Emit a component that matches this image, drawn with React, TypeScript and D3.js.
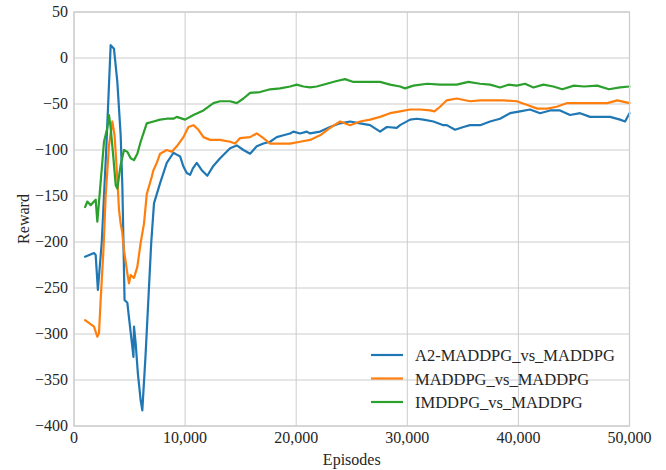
import React from "react";
import * as d3 from "d3";

// Episode checkpoints and smoothed rewards for each matchup
const a2Episodes = [1000, 1800, 1950, 2150, 2500, 2900, 3300, 3600, 3900, 4200, 4350, 4450, 4550, 4800, 4900, 5250, 5350, 5400, 5550, 5750, 6000, 6150, 6450, 6750, 6950, 7200, 7300, 7750, 8350, 8950, 9250, 9550, 9850, 10150, 10450, 10700, 11050, 11500, 12000, 12500, 13150, 14050, 14650, 15250, 15850, 16450, 17050, 17650, 18250, 18850, 19450, 19750, 20350, 20950, 21250, 22150, 23050, 23950, 24850, 25750, 26650, 27550, 28150, 29050, 29350, 30250, 30850, 31450, 32350, 33250, 33550, 34300, 35050, 35650, 36550, 37450, 38350, 39250, 40150, 41050, 41950, 42850, 43750, 44650, 45550, 46450, 47350, 48250, 49150, 49600, 50000];
const a2Rewards = [-216, -212, -214, -252, -200, -100, 14, 10, -26, -84, -138, -200, -263, -266, -277, -314, -325, -292, -310, -343, -372, -383, -321, -249, -201, -158, -154, -136, -114, -103, -105, -107, -118, -125, -127, -120, -114, -122, -128, -118, -109, -98, -95, -100, -104, -96, -93, -91, -86, -84, -82, -80, -82, -80, -82, -80, -75, -71, -69, -71, -73, -80, -75, -76, -73, -67, -66, -67, -69, -73, -73, -78, -75, -73, -73, -69, -66, -60, -58, -56, -60, -57, -57, -62, -60, -64, -64, -64, -67, -69, -60];

const maddpgEpisodes = [1000, 1800, 2100, 2250, 2400, 2650, 2850, 3150, 3450, 3650, 3900, 4050, 4200, 4350, 4500, 4800, 4950, 5100, 5400, 5700, 6000, 6300, 6550, 7000, 7150, 7450, 7750, 8350, 8800, 9250, 9850, 10300, 10750, 11200, 11650, 12250, 13150, 14050, 14500, 14950, 15850, 16450, 17050, 17650, 18550, 19450, 20350, 21250, 22150, 23050, 23950, 24850, 25750, 26650, 27550, 28450, 29350, 30250, 31150, 32050, 32450, 32950, 33550, 34450, 35650, 36550, 37450, 38650, 39850, 40800, 41700, 42600, 43450, 44400, 45600, 46800, 48000, 48900, 50000];
const maddpgRewards = [-285, -292, -303, -299, -263, -209, -150, -95, -69, -84, -131, -165, -180, -190, -209, -234, -245, -236, -239, -227, -201, -180, -148, -129, -122, -114, -104, -100, -102, -96, -86, -75, -73, -78, -86, -89, -89, -91, -93, -87, -86, -82, -87, -93, -93, -93, -91, -89, -84, -76, -69, -73, -69, -67, -64, -60, -58, -56, -56, -57, -58, -53, -46, -44, -47, -46, -46, -46, -47, -51, -55, -55, -53, -49, -49, -49, -49, -46, -49];

const imEpisodes = [1000, 1200, 1500, 1800, 1950, 2100, 2350, 2700, 3000, 3150, 3300, 3550, 3750, 3900, 4200, 4500, 4800, 5100, 5400, 5700, 6000, 6300, 6550, 7150, 7750, 8350, 8950, 9250, 10000, 10750, 11650, 12550, 13150, 14050, 14650, 15250, 15850, 16750, 17650, 18550, 19450, 20050, 20650, 21250, 21850, 22750, 23650, 24400, 25150, 26350, 27550, 28450, 29350, 29800, 30550, 31800, 32950, 34450, 35500, 36550, 37450, 38350, 39100, 39850, 40600, 41350, 42250, 43150, 43950, 45000, 45900, 47100, 48150, 49150, 50000];
const imRewards = [-162, -156, -160, -156, -154, -178, -142, -91, -76, -62, -76, -109, -138, -142, -116, -100, -102, -109, -111, -104, -91, -80, -71, -69, -67, -66, -66, -64, -67, -62, -57, -49, -47, -47, -49, -44, -38, -37, -34, -33, -31, -29, -31, -32, -31, -28, -25, -23, -26, -26, -26, -29, -31, -33, -30, -28, -29, -29, -26, -28, -29, -32, -29, -30, -28, -32, -29, -31, -34, -30, -31, -30, -34, -32, -31];

const seriesNames = ["A2-MADDPG_vs_MADDPG", "MADDPG_vs_MADDPG", "IMDDPG_vs_MADDPG"];
const seriesColors = ["#1f77b4", "#ff7f0e", "#2ca02c"];

const xTicks = [0, 10000, 20000, 30000, 40000, 50000];
const yTicks = [50, 0, -50, -100, -150, -200, -250, -300, -350, -400];

const W = 666;
const H = 470;
const margin = { left: 74, right: 36.5, top: 12, bottom: 44 };
const FONT = "'Liberation Serif', 'DejaVu Serif', serif";
const GRID = "#cccccc";
const INK = "#262626";

export default function App() {
  const x = d3.scaleLinear().domain([0, 50000]).range([margin.left, W - margin.right]);
  const y = d3.scaleLinear().domain([-400, 50]).range([H - margin.bottom, margin.top]);

  const series = [
    { name: seriesNames[0], color: seriesColors[0], xs: a2Episodes, ys: a2Rewards },
    { name: seriesNames[1], color: seriesColors[1], xs: maddpgEpisodes, ys: maddpgRewards },
    { name: seriesNames[2], color: seriesColors[2], xs: imEpisodes, ys: imRewards },
  ];

  const line = d3
    .line<[number, number]>()
    .x((d) => x(d[0]))
    .y((d) => y(d[1]));

  const fmtX = d3.format(",");
  const fmtY = (v: number) => (v < 0 ? "\u2212" + Math.abs(v) : String(v));

  const [x0, x1] = x.range();
  const [yb, yt] = y.range();

  return (
    <svg
      width={W}
      height={H}
      style={{ position: "absolute", left: 0, top: 0, background: "#fff" }}
      fontFamily={FONT}
    >
      <rect x={0} y={0} width={W} height={H} fill="#fff" />
      {/* grid */}
      {xTicks.map((t) => (
        <line key={"gx" + t} x1={x(t)} x2={x(t)} y1={yt} y2={yb} stroke={GRID} strokeWidth={1} />
      ))}
      {yTicks.map((t) => (
        <line key={"gy" + t} x1={x0} x2={x1} y1={y(t)} y2={y(t)} stroke={GRID} strokeWidth={1} />
      ))}
      {/* series */}
      {series.map((s) => (
        <path
          key={s.name}
          d={line(s.xs.map((v, i) => [v, s.ys[i]] as [number, number])) || ""}
          fill="none"
          stroke={s.color}
          strokeWidth={2.2}
          strokeLinejoin="round"
          strokeLinecap="round"
        />
      ))}
      {/* frame */}
      <rect x={x0} y={yt} width={x1 - x0} height={yb - yt} fill="none" stroke={GRID} strokeWidth={1.25} />
      {/* tick labels */}
      {xTicks.map((t) => (
        <text key={"tx" + t} x={x(t)} y={yb + 17} textAnchor="middle" fontSize={16} fill={INK}>
          {fmtX(t)}
        </text>
      ))}
      {yTicks.map((t) => (
        <text key={"ty" + t} x={x0 - 6} y={y(t) + 5} textAnchor="end" fontSize={16} fill={INK}>
          {fmtY(t)}
        </text>
      ))}
      {/* axis titles */}
      <text x={(x0 + x1) / 2} y={H - 5} textAnchor="middle" fontSize={16} fill={INK}>
        Episodes
      </text>
      <text
        transform={`translate(${29},${(yt + yb) / 2}) rotate(-90)`}
        textAnchor="middle"
        fontSize={16}
        fill={INK}
      >
        Reward
      </text>
      {/* legend */}
      {series.map((s, i) => (
        <g key={"lg" + i} transform={`translate(371,${355 + i * 23.5})`}>
          <line x1={0} x2={32} y1={0} y2={0} stroke={s.color} strokeWidth={2.2} />
          <text x={44} y={6} fontSize={16.5} fill={INK}>
            {s.name}
          </text>
        </g>
      ))}
    </svg>
  );
}
